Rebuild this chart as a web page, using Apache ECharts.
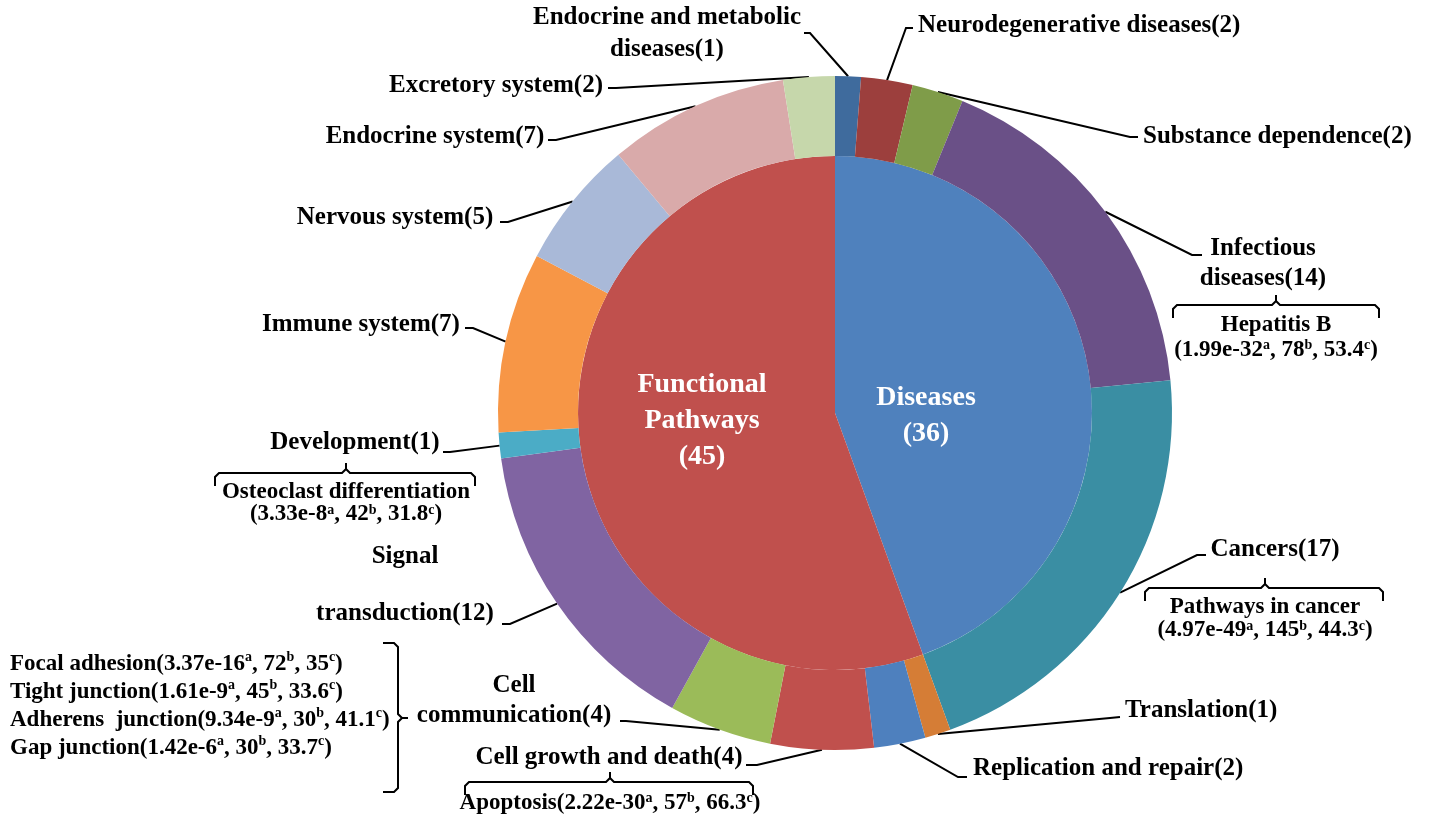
<!DOCTYPE html>
<html>
<head>
<meta charset="utf-8">
<script src="https://cdn.jsdelivr.net/npm/echarts@6/dist/echarts.min.js"></script>
<style>
  html, body { margin: 0; padding: 0; background: #fff; }
  #main { width: 1429px; height: 818px; }
</style>
</head>
<body>
<div id="main"></div>
<script>
// inner pie: the two big groups
const innerNames = ['Diseases', 'Functional Pathways'];
const innerValues = [36, 45];

// outer ring: sub categories, clockwise from 12 o'clock
const outerNames = [
  'Endocrine and metabolic diseases', 'Neurodegenerative diseases', 'Substance dependence',
  'Infectious diseases', 'Cancers', 'Translation', 'Replication and repair',
  'Cell growth and death', 'Cell communication', 'Signal transduction', 'Development',
  'Immune system', 'Nervous system', 'Endocrine system', 'Excretory system'
];
const outerValues = [1, 2, 2, 14, 17, 1, 2, 4, 4, 12, 1, 7, 5, 7, 2];

// top pathways under the brackets
const topNames = ['Hepatitis B', 'Pathways in cancer', 'Apoptosis', 'Osteoclast differentiation'];
const topP = ['1.99e-32', '4.97e-49', '2.22e-30', '3.33e-8'];
const topGenes = ['78', '145', '57', '42'];
const topPct = ['53.4', '44.3', '66.3', '31.8'];

// cell communication pathways
const commNames = ['Focal adhesion', 'Tight junction', 'Adherens  junction', 'Gap junction'];
const commP = ['3.37e-16', '1.61e-9', '9.34e-9', '1.42e-6'];
const commGenes = ['72', '45', '30', '30'];
const commPct = ['35', '33.6', '41.1', '33.7'];

// colours
const innerColors = ['#4f81bd', '#c0504d'];
const outerColors = ['#3f6b9d', '#9c3f3d', '#7f9c49', '#6a5087', '#3a8ea3', '#d57d36', '#4e80be',
  '#c0504d', '#9bbb59', '#8064a2', '#4bacc6', '#f79646', '#a9b9d8', '#d9aaaa', '#c6d7ab'];

// line breaks in the labels
const wrapAt = {
  'Endocrine and metabolic diseases': 'Endocrine and metabolic\ndiseases',
  'Infectious diseases': 'Infectious\ndiseases',
  'Signal transduction': 'Signal\ntransduction',
  'Cell communication': 'Cell\ncommunication'
};

// label placement: [x, y, align, lineEndX, lineEndY, elbowX, elbowY]
const outerLabelPos = [
  [667, 34, 'center', 804, 33, 810, 33],
  [918, 26, 'left', 913, 28, 906, 28],
  [1143, 137, 'left', 1138, 137, 1130, 137],
  [1263, 264, 'center', 1202, 255, 1192, 255],
  [1275, 550, 'center', 1206, 555, 1197, 555],
  [1125, 711, 'left', 1120, 717, 1110, 718],
  [973, 769, 'left', 967, 777, 958, 777],
  [609, 758, 'center', 746, 765, 757, 765],
  [514, 701, 'center', 620, 721, 626, 721],
  [405, 585, 'center', 502, 624, 510, 624],
  [355, 443, 'center', 443, 452, 450, 452],
  [361, 325, 'center', 465, 328, 473, 328],
  [395, 218, 'center', 500, 222, 508, 222],
  [435, 137, 'center', 548, 140, 556, 140],
  [496, 86, 'center', 608, 88, 616, 88]
];
const innerLabelPos = [[926, 416], [702, 421]];

const serif = 'Liberation Serif';
const supStyle = { fontSize: 14, fontWeight: 'bold', fontFamily: serif, verticalAlign: 'top', lineHeight: 12 };

function stats(p, g, c) {
  return p + '{s|a}, ' + g + '{s|b}, ' + c + '{s|c})';
}

function annoText(text, x, y, align, lineHeight) {
  return {
    type: 'text',
    silent: true,
    x: x,
    y: y,
    style: {
      text: text,
      fontSize: 23,
      fontWeight: 'bold',
      fontFamily: serif,
      fill: '#000',
      align: align,
      verticalAlign: 'middle',
      textAlign: align,
      textVerticalAlign: 'middle',
      lineHeight: lineHeight,
      rich: { s: supStyle }
    }
  };
}

// curly bracket, horizontal (opens downward, tip up)
function hBrace(x1, x2, y, tipX) {
  return {
    type: 'polyline', silent: true,
    shape: { points: [[x1, y + 13], [x1, y + 4], [x1 + 4, y], [tipX - 4, y], [tipX, y - 4], [tipX, y - 10],
      [tipX, y - 4], [tipX + 4, y], [x2 - 4, y], [x2, y + 4], [x2, y + 13]] },
    style: { stroke: '#000', lineWidth: 2, fill: null }
  };
}

// curly bracket, vertical (opens left, tip right)
function vBrace(x, y1, y2, tipY) {
  return {
    type: 'polyline', silent: true,
    shape: { points: [[x - 15, y1], [x - 4, y1], [x, y1 + 4], [x, tipY - 4], [x + 4, tipY], [x + 10, tipY],
      [x + 4, tipY], [x, tipY + 4], [x, y2 - 4], [x - 4, y2], [x - 15, y2]] },
    style: { stroke: '#000', lineWidth: 2, fill: null }
  };
}

const chart = echarts.init(document.getElementById('main'));

const innerData = innerNames.map((n, i) => ({ name: n, value: innerValues[i], itemStyle: { color: innerColors[i] } }));
const outerData = outerNames.map((n, i) => {
  const item = { name: n, value: outerValues[i], itemStyle: { color: outerColors[i] } };
  if (n === 'Signal transduction') item.label = { lineHeight: 57 };
  if (n === 'Endocrine and metabolic diseases') item.label = { lineHeight: 32 };
  return item;
});

const option = {
  backgroundColor: '#fff',
  animation: false,
  series: [
    {
      type: 'pie',
      center: [835, 413],
      radius: [0, 257],
      startAngle: 90,
      clockwise: true,
      silent: true,
      avoidLabelOverlap: false,
      data: innerData,
      label: {
        show: true,
        position: 'inside',
        color: '#fff',
        fontFamily: serif,
        fontWeight: 'bold',
        fontSize: 28,
        lineHeight: 36,
        formatter: p => p.name.replace(' ', '\n') + '\n(' + p.value + ')'
      },
      labelLine: { show: false },
      labelLayout: function (params) {
        const pos = innerLabelPos[params.dataIndex];
        return { x: pos[0], y: pos[1], align: 'center', verticalAlign: 'middle' };
      }
    },
    {
      type: 'pie',
      center: [835, 413],
      radius: [257, 337],
      startAngle: 90,
      clockwise: true,
      silent: true,
      avoidLabelOverlap: false,
      data: outerData,
      label: {
        show: true,
        position: 'outside',
        color: '#000',
        fontFamily: serif,
        fontWeight: 'bold',
        fontSize: 25,
        lineHeight: 30,
        align: 'center',
        formatter: p => (wrapAt[p.name] || p.name) + '(' + p.value + ')'
      },
      labelLine: { show: true, length: 10, length2: 10, lineStyle: { color: '#000', width: 2 } },
      labelLayout: function (params) {
        const pos = outerLabelPos[params.dataIndex];
        const pts = params.labelLinePoints;
        return {
          x: pos[0], y: pos[1], align: pos[2], verticalAlign: 'middle',
          labelLinePoints: [pts[0], [pos[5], pos[6]], [pos[3], pos[4]]]
        };
      }
    }
  ],
  graphic: [
    hBrace(1173, 1379, 305, 1276),
    annoText(topNames[0] + '\n(' + stats(topP[0], topGenes[0], topPct[0]), 1276, 338, 'center', 25),
    hBrace(1145, 1383, 588, 1265),
    annoText(topNames[1] + '\n(' + stats(topP[1], topGenes[1], topPct[1]), 1265, 619, 'center', 23),
    hBrace(465, 753, 782, 610),
    annoText(topNames[2] + '(' + stats(topP[2], topGenes[2], topPct[2]), 610, 803, 'center', 24),
    hBrace(215, 475, 473, 346),
    annoText(topNames[3] + '\n(' + stats(topP[3], topGenes[3], topPct[3]), 346, 503, 'center', 22),
    vBrace(398, 643, 792, 718),
    annoText(commNames.map((n, i) => n + '(' + stats(commP[i], commGenes[i], commPct[i])).join('\n'),
      10, 706, 'left', 28)
  ]
};

chart.setOption(option);
</script>
</body>
</html>
